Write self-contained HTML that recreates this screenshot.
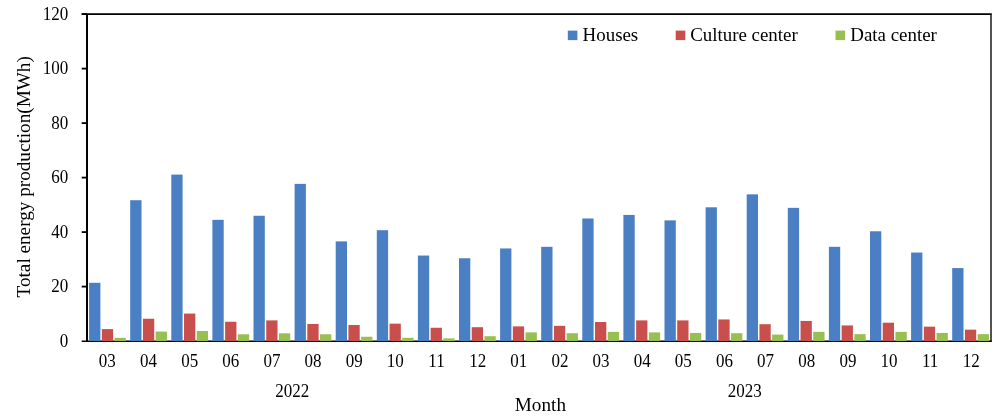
<!DOCTYPE html>
<html><head><meta charset="utf-8"><title>Total energy production</title>
<style>html,body{margin:0;padding:0;background:#fff}svg{display:block}text{font-family:"Liberation Serif",serif;fill:#000}</style></head>
<body>
<svg width="1004" height="416" viewBox="0 0 1004 416">
<rect width="1004" height="416" fill="#fff"/>
<line x1="81.7" y1="14.1" x2="991.8" y2="14.1" stroke="#000" stroke-width="1.6"/>
<line x1="991.0" y1="14.1" x2="991.0" y2="341.8" stroke="#1a1a1a" stroke-width="1.5"/>
<line x1="87.0" y1="14.1" x2="87.0" y2="342.1" stroke="#000" stroke-width="2"/>
<line x1="81.7" y1="341.20" x2="991.75" y2="341.20" stroke="#000" stroke-width="1.6"/>
<line x1="81.7" y1="286.60" x2="87.0" y2="286.60" stroke="#000" stroke-width="1.8"/>
<line x1="81.7" y1="232.10" x2="87.0" y2="232.10" stroke="#000" stroke-width="1.8"/>
<line x1="81.7" y1="177.60" x2="87.0" y2="177.60" stroke="#000" stroke-width="1.8"/>
<line x1="81.7" y1="123.10" x2="87.0" y2="123.10" stroke="#000" stroke-width="1.8"/>
<line x1="81.7" y1="68.60" x2="87.0" y2="68.60" stroke="#000" stroke-width="1.8"/>
<line x1="81.7" y1="14.10" x2="87.0" y2="14.10" stroke="#000" stroke-width="1.8"/>
<text transform="translate(68.2 346.70) scale(0.93 1)" font-size="18.3" text-anchor="end">0</text>
<text transform="translate(68.2 292.20) scale(0.93 1)" font-size="18.3" text-anchor="end">20</text>
<text transform="translate(68.2 237.70) scale(0.93 1)" font-size="18.3" text-anchor="end">40</text>
<text transform="translate(68.2 183.20) scale(0.93 1)" font-size="18.3" text-anchor="end">60</text>
<text transform="translate(68.2 128.70) scale(0.93 1)" font-size="18.3" text-anchor="end">80</text>
<text transform="translate(68.2 74.20) scale(0.93 1)" font-size="18.3" text-anchor="end">100</text>
<text transform="translate(68.2 19.70) scale(0.93 1)" font-size="18.3" text-anchor="end">120</text>
<rect x="89.10" y="282.79" width="11.3" height="58.31" fill="#4a7fc4"/>
<rect x="101.82" y="329.11" width="11.3" height="11.99" fill="#c94f4d"/>
<rect x="114.54" y="337.83" width="11.3" height="3.27" fill="#98bf52"/>
<text transform="translate(107.37 367.3) scale(0.93 1)" font-size="18.3" text-anchor="middle">03</text>
<rect x="130.20" y="200.22" width="11.3" height="140.88" fill="#4a7fc4"/>
<rect x="142.92" y="318.75" width="11.3" height="22.34" fill="#c94f4d"/>
<rect x="155.64" y="331.56" width="11.3" height="9.54" fill="#98bf52"/>
<text transform="translate(148.51 367.3) scale(0.93 1)" font-size="18.3" text-anchor="middle">04</text>
<rect x="171.30" y="174.60" width="11.3" height="166.50" fill="#4a7fc4"/>
<rect x="184.02" y="313.58" width="11.3" height="27.52" fill="#c94f4d"/>
<rect x="196.74" y="331.02" width="11.3" height="10.08" fill="#98bf52"/>
<text transform="translate(189.65 367.3) scale(0.93 1)" font-size="18.3" text-anchor="middle">05</text>
<rect x="212.40" y="219.84" width="11.3" height="121.26" fill="#4a7fc4"/>
<rect x="225.12" y="321.75" width="11.3" height="19.35" fill="#c94f4d"/>
<rect x="237.84" y="334.29" width="11.3" height="6.81" fill="#98bf52"/>
<text transform="translate(230.79 367.3) scale(0.93 1)" font-size="18.3" text-anchor="middle">06</text>
<rect x="253.50" y="215.75" width="11.3" height="125.35" fill="#4a7fc4"/>
<rect x="266.22" y="320.39" width="11.3" height="20.71" fill="#c94f4d"/>
<rect x="278.94" y="333.33" width="11.3" height="7.77" fill="#98bf52"/>
<text transform="translate(271.93 367.3) scale(0.93 1)" font-size="18.3" text-anchor="middle">07</text>
<rect x="294.60" y="183.87" width="11.3" height="157.23" fill="#4a7fc4"/>
<rect x="307.32" y="323.93" width="11.3" height="17.17" fill="#c94f4d"/>
<rect x="320.04" y="334.29" width="11.3" height="6.81" fill="#98bf52"/>
<text transform="translate(313.07 367.3) scale(0.93 1)" font-size="18.3" text-anchor="middle">08</text>
<rect x="335.70" y="241.37" width="11.3" height="99.74" fill="#4a7fc4"/>
<rect x="348.42" y="325.02" width="11.3" height="16.08" fill="#c94f4d"/>
<rect x="361.14" y="336.74" width="11.3" height="4.36" fill="#98bf52"/>
<text transform="translate(354.21 367.3) scale(0.93 1)" font-size="18.3" text-anchor="middle">09</text>
<rect x="376.80" y="230.19" width="11.3" height="110.91" fill="#4a7fc4"/>
<rect x="389.52" y="323.66" width="11.3" height="17.44" fill="#c94f4d"/>
<rect x="402.24" y="337.83" width="11.3" height="3.27" fill="#98bf52"/>
<text transform="translate(395.35 367.3) scale(0.93 1)" font-size="18.3" text-anchor="middle">10</text>
<rect x="417.90" y="255.54" width="11.3" height="85.56" fill="#4a7fc4"/>
<rect x="430.62" y="327.75" width="11.3" height="13.35" fill="#c94f4d"/>
<rect x="443.34" y="338.38" width="11.3" height="2.73" fill="#98bf52"/>
<text transform="translate(436.49 367.3) scale(0.93 1)" font-size="18.3" text-anchor="middle">11</text>
<rect x="459.00" y="258.26" width="11.3" height="82.84" fill="#4a7fc4"/>
<rect x="471.72" y="327.20" width="11.3" height="13.90" fill="#c94f4d"/>
<rect x="484.44" y="336.20" width="11.3" height="4.91" fill="#98bf52"/>
<text transform="translate(477.63 367.3) scale(0.93 1)" font-size="18.3" text-anchor="middle">12</text>
<rect x="500.10" y="248.45" width="11.3" height="92.65" fill="#4a7fc4"/>
<rect x="512.82" y="326.39" width="11.3" height="14.72" fill="#c94f4d"/>
<rect x="525.54" y="332.38" width="11.3" height="8.72" fill="#98bf52"/>
<text transform="translate(518.77 367.3) scale(0.93 1)" font-size="18.3" text-anchor="middle">01</text>
<rect x="541.20" y="246.81" width="11.3" height="94.29" fill="#4a7fc4"/>
<rect x="553.92" y="325.84" width="11.3" height="15.26" fill="#c94f4d"/>
<rect x="566.64" y="333.20" width="11.3" height="7.90" fill="#98bf52"/>
<text transform="translate(559.91 367.3) scale(0.93 1)" font-size="18.3" text-anchor="middle">02</text>
<rect x="582.30" y="218.48" width="11.3" height="122.62" fill="#4a7fc4"/>
<rect x="595.02" y="322.03" width="11.3" height="19.07" fill="#c94f4d"/>
<rect x="607.74" y="331.84" width="11.3" height="9.27" fill="#98bf52"/>
<text transform="translate(601.05 367.3) scale(0.93 1)" font-size="18.3" text-anchor="middle">03</text>
<rect x="623.40" y="214.93" width="11.3" height="126.17" fill="#4a7fc4"/>
<rect x="636.12" y="320.39" width="11.3" height="20.71" fill="#c94f4d"/>
<rect x="648.84" y="332.38" width="11.3" height="8.72" fill="#98bf52"/>
<text transform="translate(642.19 367.3) scale(0.93 1)" font-size="18.3" text-anchor="middle">04</text>
<rect x="664.50" y="220.38" width="11.3" height="120.72" fill="#4a7fc4"/>
<rect x="677.22" y="320.39" width="11.3" height="20.71" fill="#c94f4d"/>
<rect x="689.94" y="332.93" width="11.3" height="8.18" fill="#98bf52"/>
<text transform="translate(683.33 367.3) scale(0.93 1)" font-size="18.3" text-anchor="middle">05</text>
<rect x="705.60" y="207.30" width="11.3" height="133.80" fill="#4a7fc4"/>
<rect x="718.32" y="319.44" width="11.3" height="21.66" fill="#c94f4d"/>
<rect x="731.04" y="333.20" width="11.3" height="7.90" fill="#98bf52"/>
<text transform="translate(724.47 367.3) scale(0.93 1)" font-size="18.3" text-anchor="middle">06</text>
<rect x="746.70" y="194.36" width="11.3" height="146.74" fill="#4a7fc4"/>
<rect x="759.42" y="324.21" width="11.3" height="16.89" fill="#c94f4d"/>
<rect x="772.14" y="334.56" width="11.3" height="6.54" fill="#98bf52"/>
<text transform="translate(765.61 367.3) scale(0.93 1)" font-size="18.3" text-anchor="middle">07</text>
<rect x="787.80" y="207.85" width="11.3" height="133.25" fill="#4a7fc4"/>
<rect x="800.52" y="320.94" width="11.3" height="20.17" fill="#c94f4d"/>
<rect x="813.24" y="331.84" width="11.3" height="9.27" fill="#98bf52"/>
<text transform="translate(806.75 367.3) scale(0.93 1)" font-size="18.3" text-anchor="middle">08</text>
<rect x="828.90" y="246.81" width="11.3" height="94.29" fill="#4a7fc4"/>
<rect x="841.62" y="325.43" width="11.3" height="15.67" fill="#c94f4d"/>
<rect x="854.34" y="334.15" width="11.3" height="6.95" fill="#98bf52"/>
<text transform="translate(847.89 367.3) scale(0.93 1)" font-size="18.3" text-anchor="middle">09</text>
<rect x="870.00" y="231.28" width="11.3" height="109.82" fill="#4a7fc4"/>
<rect x="882.72" y="322.71" width="11.3" height="18.39" fill="#c94f4d"/>
<rect x="895.44" y="331.84" width="11.3" height="9.27" fill="#98bf52"/>
<text transform="translate(889.03 367.3) scale(0.93 1)" font-size="18.3" text-anchor="middle">10</text>
<rect x="911.10" y="252.54" width="11.3" height="88.56" fill="#4a7fc4"/>
<rect x="923.82" y="326.66" width="11.3" height="14.44" fill="#c94f4d"/>
<rect x="936.54" y="332.93" width="11.3" height="8.18" fill="#98bf52"/>
<text transform="translate(930.17 367.3) scale(0.93 1)" font-size="18.3" text-anchor="middle">11</text>
<rect x="952.20" y="268.07" width="11.3" height="73.03" fill="#4a7fc4"/>
<rect x="964.92" y="329.66" width="11.3" height="11.45" fill="#c94f4d"/>
<rect x="977.64" y="334.15" width="11.3" height="6.95" fill="#98bf52"/>
<text transform="translate(971.31 367.3) scale(0.93 1)" font-size="18.3" text-anchor="middle">12</text>
<text transform="translate(292.20 397.4) scale(0.93 1)" font-size="18.3" text-anchor="middle">2022</text>
<text transform="translate(744.64 397.4) scale(0.93 1)" font-size="18.3" text-anchor="middle">2023</text>
<text x="540.4" y="410.8" font-size="19.2" text-anchor="middle">Month</text>
<text transform="translate(30.1 176.8) rotate(-90)" font-size="19.2" text-anchor="middle">Total energy production(MWh)</text>
<rect x="567.8" y="30.6" width="9.6" height="9.5" fill="#4a7fc4"/>
<text x="582.6" y="40.6" font-size="18.9">Houses</text>
<rect x="675.6999999999999" y="30.6" width="9.6" height="9.5" fill="#c94f4d"/>
<text x="690.2" y="40.6" font-size="18.9">Culture center</text>
<rect x="835.5" y="30.6" width="9.6" height="9.5" fill="#98bf52"/>
<text x="850.3" y="40.6" font-size="18.9">Data center</text>
</svg>
</body></html>
